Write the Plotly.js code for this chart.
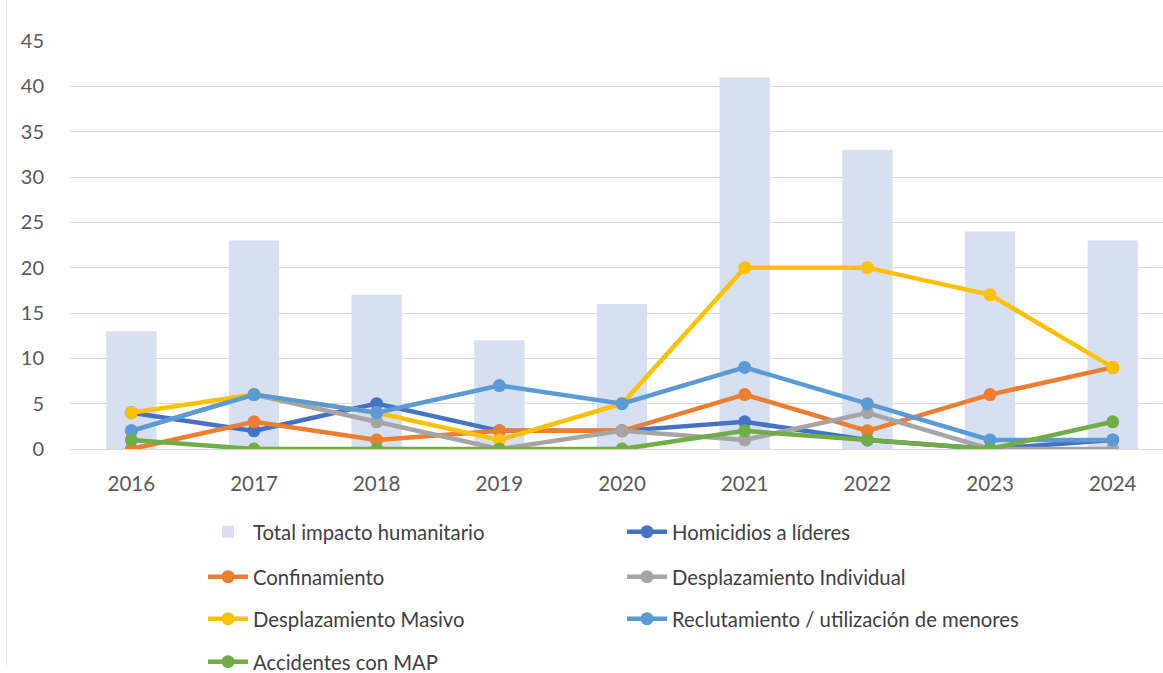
<!DOCTYPE html>
<html>
<head>
<meta charset="utf-8">
<script src="https://cdn.plot.ly/plotly-3.0.1.min.js"></script>
<style>html,body{margin:0;padding:0;background:#fff;}#chart{width:1163px;height:673px;}</style>
</head>
<body>
<div id="chart"></div>
<script>
const years = ['2016','2017','2018','2019','2020','2021','2022','2023','2024'];
const totalImpacto = [13, 23, 17, 12, 16, 41, 33, 24, 23];
const homicidios = [4, 2, 5, 2, 2, 3, 1, 0, 1];
const confinamiento = [0, 3, 1, 2, 2, 6, 2, 6, 9];
const despIndividual = [2, 6, 3, 0, 2, 1, 4, 0, 0];
const despMasivo = [4, 6, 4, 1, 5, 20, 20, 17, 9];
const reclutamiento = [2, 6, 4, 7, 5, 9, 5, 1, 1];
const accidentesMAP = [1, 0, 0, 0, 0, 2, 1, 0, 3];
const yTicks = [0, 5, 10, 15, 20, 25, 30, 35, 40, 45];

const FONT = 'Lato, "Open Sans", sans-serif';

function lineTrace(name, y, color, legend) {
  return {
    type: 'scatter', mode: 'lines+markers', name: name, x: years, y: y,
    line: {color: color, width: 4.5},
    marker: {color: color, size: 13},
    legend: legend
  };
}

const data = [
  {type: 'bar', name: 'Total impacto humanitario', x: years, y: totalImpacto,
   marker: {color: '#D6E0F0'}, width: 0.41, legend: 'legend'},
  lineTrace('Homicidios a líderes', homicidios, '#4472C4', 'legend'),
  lineTrace('Confinamiento', confinamiento, '#ED7D31', 'legend2'),
  lineTrace('Desplazamiento Individual', despIndividual, '#A5A5A5', 'legend2'),
  lineTrace('Desplazamiento Masivo', despMasivo, '#FFC000', 'legend3'),
  lineTrace('Reclutamiento / utilización de menores', reclutamiento, '#5B9BD5', 'legend3'),
  lineTrace('Accidentes con MAP', accidentesMAP, '#70AD47', 'legend4')
];

function leg(yc) {
  return {
    orientation: 'h', x: 0.1217, xanchor: 'left', y: yc, yanchor: 'middle', yref: 'container',
    entrywidth: 364, entrywidthmode: 'pixels',
    font: {family: FONT, size: 20.3, color: '#404040'},
    bgcolor: 'rgba(0,0,0,0)', traceorder: 'normal', itemwidth: 40
  };
}

const layout = {
  width: 1163, height: 673,
  margin: {l: 70, r: 0, t: 41, b: 224},
  paper_bgcolor: '#ffffff', plot_bgcolor: '#ffffff',
  font: {family: FONT, size: 20, color: '#595959'},
  showlegend: true,
  xaxis: {
    type: 'category', range: [-0.5, 8.41], showgrid: false, zeroline: false,
    showline: false, ticks: 'outside', ticklen: 16, tickcolor: 'rgba(0,0,0,0)',
    tickfont: {family: FONT, size: 20.5, color: '#595959'}, fixedrange: true
  },
  yaxis: {
    range: [0, 45], tickvals: yTicks, ticktext: yTicks.map(String),
    showgrid: true, gridcolor: '#D9D9D9', gridwidth: 1,
    zeroline: true, zerolinecolor: '#D9D9D9', zerolinewidth: 1,
    showline: false, ticks: 'outside', ticklen: 21, tickcolor: 'rgba(0,0,0,0)',
    tickfont: {family: FONT, size: 20, color: '#595959'}, fixedrange: true
  },
  legend: leg(1 - 532 / 673),
  legend2: leg(1 - 577 / 673),
  legend3: leg(1 - 619 / 673),
  legend4: leg(1 - 662 / 673),
  shapes: [
    {type: 'line', xref: 'paper', yref: 'paper', x0: -0.058, x1: -0.058, y0: 1.1, y1: -0.54,
     line: {color: '#EDEDED', width: 1}}
  ]
};

Plotly.newPlot('chart', data, layout, {displayModeBar: false, staticPlot: true});
</script>
</body>
</html>
